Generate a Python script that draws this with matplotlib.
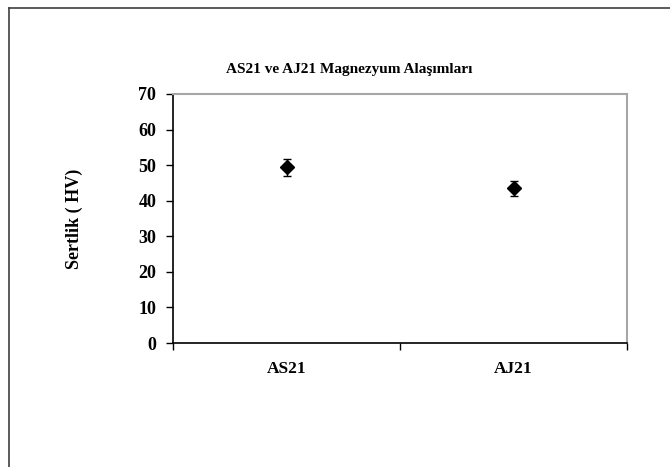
import matplotlib
matplotlib.use("Agg")
import matplotlib.pyplot as plt
from matplotlib.lines import Line2D

# data
categories = ["AS21", "AJ21"]
hardness = [49.4, 43.5]
hardness_err = [2.4, 2.1]
y_ticks = [0, 10, 20, 30, 40, 50, 60, 70]

plt.rcParams['font.family'] = ['Liberation Serif', 'DejaVu Serif']
plt.rcParams['font.weight'] = 'bold'

fig = plt.figure(figsize=(6.7, 4.67), dpi=100)
ax = fig.add_axes([173/670, 1 - 343/467, 454/670, 249/467])

x = list(range(len(categories)))
ax.errorbar(x, hardness, yerr=hardness_err, fmt='D', color='black',
            markersize=7, ecolor='black', elinewidth=1, capsize=3, capthick=1)

ax.set_xlim(-0.5, len(categories) - 0.5)
ax.set_ylim(0, 70)
ax.set_yticks(y_ticks)
ax.set_yticklabels([str(t) for t in y_ticks], fontsize=13, fontweight='bold')

# category boundaries get the tick marks, labels sit in between
ax.set_xticks([-0.5, 0.5, 1.5])
ax.set_xticklabels(['', '', ''])
ax.set_xticks(x, minor=True)
ax.set_xticklabels(categories, minor=True, fontsize=12.5, fontweight='bold')
ax.tick_params(axis='x', which='minor', length=0, pad=13)
ax.tick_params(axis='both', which='major', direction='out', length=5, width=1, color='black')
ax.tick_params(axis='y', pad=7)

for s in ['left', 'bottom']:
    ax.spines[s].set_color('black')
    ax.spines[s].set_linewidth(1.2)
for s in ['top', 'right']:
    ax.spines[s].set_color('#a6a6a6')
    ax.spines[s].set_linewidth(1.5)

ax.set_ylabel("Sertlik ( HV)", fontsize=13, fontweight='bold', labelpad=40)

fig.text(349/670, 1 - 70/467, "AS21 ve AJ21 Magnezyum Alaşımları",
         ha='center', va='center', fontsize=11, fontweight='bold')

# outer chart border (only top and left visible in the reference)
fig.add_artist(Line2D([9/670, 1.0], [1 - 8/467, 1 - 8/467], transform=fig.transFigure,
                      color='#404040', linewidth=1.2))
fig.add_artist(Line2D([9/670, 9/670], [0.0, 1 - 8/467], transform=fig.transFigure,
                      color='#404040', linewidth=1.2))

fig.savefig("out.png", dpi=100)
